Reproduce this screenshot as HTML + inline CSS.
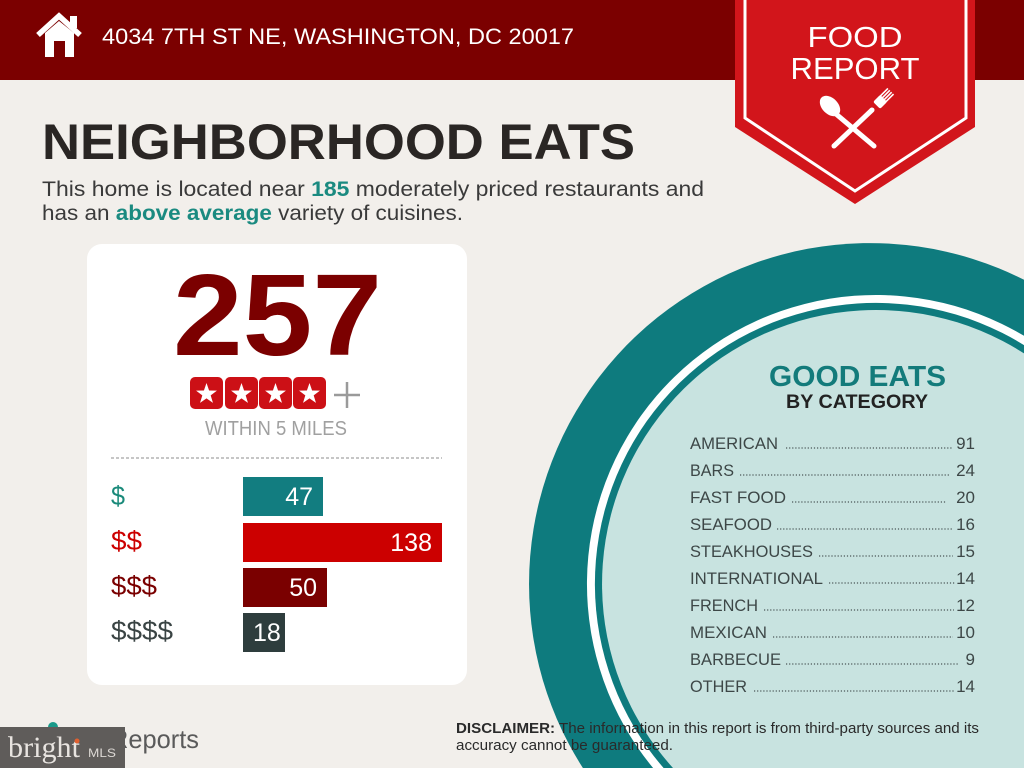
<!DOCTYPE html>
<html><head><meta charset="utf-8"><style>
html,body{margin:0;padding:0;background:#f2efeb;width:1024px;height:768px;overflow:hidden;}
svg{display:block}
text{font-family:"Liberation Sans",sans-serif}
</style></head><body>
<svg width="1024" height="768" viewBox="0 0 1024 768" xmlns="http://www.w3.org/2000/svg">
<defs>
<polygon id="star" points="0,-11 2.59,-3.56 10.46,-3.4 4.18,1.36 6.47,8.9 0,4.4 -6.47,8.9 -4.18,1.36 -10.46,-3.4 -2.59,-3.56" fill="#fff"/>
</defs>
<rect width="1024" height="768" fill="#f2efeb"/>

<!-- big circle (clipped to frame as paths) -->
<path d="M582.9 768 A341 341 0 0 1 1024 279.8 L1024 768 Z" fill="#0e7b7e"/>
<path d="M653.1 768 A289 289 0 0 1 1024 335.8 L1024 768 Z" fill="#ffffff"/>
<path d="M663.6 768 A281 281 0 0 1 1024 345.1 L1024 768 Z" fill="#0e7b7e"/>
<path d="M673.0 768 A274 274 0 0 1 1024 353.4 L1024 768 Z" fill="#c8e3e0"/>

<!-- header -->
<rect x="0" y="0" width="1024" height="80" fill="#7b0000"/>
<!-- house icon -->
<rect x="70" y="16" width="7" height="12" fill="#fff"/>
<polyline points="38,35 59,16 80,35" fill="none" stroke="#fff" stroke-width="5.5" stroke-linejoin="miter"/>
<path d="M45 33 L59 21 L74 33 L74 57 L65 57 L65 41 L54 41 L54 57 L45 57 Z" fill="#fff"/>
<text x="102" y="44" font-size="22" fill="#fff" textLength="472" lengthAdjust="spacingAndGlyphs">4034 7TH ST NE, WASHINGTON, DC 20017</text>

<!-- badge -->
<path d="M735 0 L975 0 L975 127 L855 204 L735 127 Z" fill="#d2151b"/>
<path d="M745 0 L745 118 L855 191 L966 118 L966 0" fill="none" stroke="#fff" stroke-width="3"/>
<text x="855" y="47" font-size="29" fill="#fff" text-anchor="middle" textLength="95" lengthAdjust="spacingAndGlyphs">FOOD</text>
<text x="855" y="79" font-size="31" fill="#fff" text-anchor="middle" textLength="129" lengthAdjust="spacingAndGlyphs">REPORT</text>
<!-- spoon & fork -->
<line x1="836" y1="114" x2="874" y2="146" stroke="#fff" stroke-width="5" stroke-linecap="round"/>
<ellipse cx="830" cy="106" rx="8" ry="12" transform="rotate(-45 830 106)" fill="#fff"/>
<line x1="834" y1="146" x2="872" y2="110" stroke="#fff" stroke-width="5" stroke-linecap="round"/>
<g transform="rotate(45 878 104)">
<rect x="873" y="96" width="10" height="10" rx="2" fill="#fff"/>
<line x1="874" y1="86" x2="874" y2="98" stroke="#fff" stroke-width="1.6"/>
<line x1="876.7" y1="86" x2="876.7" y2="98" stroke="#fff" stroke-width="1.6"/>
<line x1="879.3" y1="86" x2="879.3" y2="98" stroke="#fff" stroke-width="1.6"/>
<line x1="882" y1="86" x2="882" y2="98" stroke="#fff" stroke-width="1.6"/>
</g>

<!-- title -->
<text x="42" y="159" font-size="50" font-weight="bold" fill="#2a2624" textLength="593" lengthAdjust="spacingAndGlyphs">NEIGHBORHOOD EATS</text>
<text x="42" y="196" font-size="21" fill="#3a3a3a" textLength="662" lengthAdjust="spacingAndGlyphs">This home is located near <tspan fill="#1a8a80" font-weight="bold">185</tspan> moderately priced restaurants and</text>
<text x="42" y="220" font-size="21" fill="#3a3a3a" textLength="421" lengthAdjust="spacingAndGlyphs">has an <tspan fill="#1a8a80" font-weight="bold">above average</tspan> variety of cuisines.</text>

<!-- card -->
<rect x="87" y="244" width="380" height="441" rx="15" fill="#ffffff"/>
<text x="173" y="355" font-size="116" font-weight="bold" fill="#7b0000" textLength="209" lengthAdjust="spacingAndGlyphs">257</text>
<rect x="190" y="377" width="33" height="32" rx="5" fill="#cc1016"/>
<rect x="225" y="377" width="33" height="32" rx="5" fill="#cc1016"/>
<rect x="259" y="377" width="33" height="32" rx="5" fill="#cc1016"/>
<rect x="293" y="377" width="33" height="32" rx="5" fill="#cc1016"/>
<use href="#star" x="206.5" y="394"/>
<use href="#star" x="241.5" y="394"/>
<use href="#star" x="275.5" y="394"/>
<use href="#star" x="309.5" y="394"/>
<line x1="334" y1="395" x2="360" y2="395" stroke="#9a9a9a" stroke-width="2.5"/>
<line x1="347" y1="382" x2="347" y2="408" stroke="#9a9a9a" stroke-width="2.5"/>
<text x="205" y="435" font-size="20" fill="#a0a0a0" textLength="142" lengthAdjust="spacingAndGlyphs">WITHIN 5 MILES</text>
<line x1="111" y1="458" x2="442" y2="458" stroke="#b4b4b4" stroke-width="1.5" stroke-dasharray="3 2"/>

<!-- bars -->
<rect x="243" y="477" width="80" height="39" fill="#127d80"/>
<rect x="243" y="523" width="199" height="39" fill="#cc0000"/>
<rect x="243" y="568" width="84" height="39" fill="#7a0000"/>
<rect x="243" y="613" width="42" height="39" fill="#2e3d3d"/>
<text x="313" y="505" font-size="25" fill="#fff" text-anchor="end">47</text>
<text x="432" y="551" font-size="25" fill="#fff" text-anchor="end">138</text>
<text x="317" y="596" font-size="25" fill="#fff" text-anchor="end">50</text>
<text x="253" y="641" font-size="25" fill="#fff">18</text>
<text x="111" y="505" font-size="27" fill="#1a8a7a" textLength="14" lengthAdjust="spacingAndGlyphs">$</text>
<text x="111" y="550" font-size="27" fill="#cc0000" textLength="31" lengthAdjust="spacingAndGlyphs">$$</text>
<text x="111" y="595" font-size="27" fill="#7a0000" textLength="46" lengthAdjust="spacingAndGlyphs">$$$</text>
<text x="111" y="640" font-size="27" fill="#3a4444" textLength="62" lengthAdjust="spacingAndGlyphs">$$$$</text>

<!-- good eats -->
<text x="769" y="386" font-size="29" font-weight="bold" fill="#137b7b" textLength="177" lengthAdjust="spacingAndGlyphs">GOOD EATS</text>
<text x="786" y="408" font-size="19" font-weight="bold" fill="#222" textLength="142" lengthAdjust="spacingAndGlyphs">BY CATEGORY</text>

<g font-size="17" fill="#3d4747">
<text x="690" y="449" textLength="88" lengthAdjust="spacingAndGlyphs">AMERICAN</text>
<text x="975" y="449" text-anchor="end">91</text>
<text x="690" y="476" textLength="44" lengthAdjust="spacingAndGlyphs">BARS</text>
<text x="975" y="476" text-anchor="end">24</text>
<text x="690" y="503" textLength="96" lengthAdjust="spacingAndGlyphs">FAST FOOD</text>
<text x="975" y="503" text-anchor="end">20</text>
<text x="690" y="530" textLength="82" lengthAdjust="spacingAndGlyphs">SEAFOOD</text>
<text x="975" y="530" text-anchor="end">16</text>
<text x="690" y="557" textLength="123" lengthAdjust="spacingAndGlyphs">STEAKHOUSES</text>
<text x="975" y="557" text-anchor="end">15</text>
<text x="690" y="584" textLength="133" lengthAdjust="spacingAndGlyphs">INTERNATIONAL</text>
<text x="975" y="584" text-anchor="end">14</text>
<text x="690" y="611" textLength="68" lengthAdjust="spacingAndGlyphs">FRENCH</text>
<text x="975" y="611" text-anchor="end">12</text>
<text x="690" y="638" textLength="77" lengthAdjust="spacingAndGlyphs">MEXICAN</text>
<text x="975" y="638" text-anchor="end">10</text>
<text x="690" y="665" textLength="91" lengthAdjust="spacingAndGlyphs">BARBECUE</text>
<text x="975" y="665" text-anchor="end">9</text>
<text x="690" y="692" textLength="57" lengthAdjust="spacingAndGlyphs">OTHER</text>
<text x="975" y="692" text-anchor="end">14</text>
</g>
<g stroke="#4a5656" stroke-width="1.3" stroke-dasharray="1.2 1.9">
<line x1="786" y1="448" x2="953" y2="448"/>
<line x1="740" y1="475" x2="950" y2="475"/>
<line x1="792" y1="502" x2="947" y2="502"/>
<line x1="777" y1="529" x2="953" y2="529"/>
<line x1="819" y1="556" x2="953" y2="556"/>
<line x1="829" y1="583" x2="955" y2="583"/>
<line x1="764" y1="610" x2="954" y2="610"/>
<line x1="773" y1="637" x2="953" y2="637"/>
<line x1="786" y1="664" x2="958" y2="664"/>
<line x1="754" y1="691" x2="955" y2="691"/>
</g>

<!-- disclaimer -->
<text x="456" y="733" font-size="14.5" fill="#2a2a2a" textLength="523" lengthAdjust="spacingAndGlyphs"><tspan font-weight="bold">DISCLAIMER:</tspan> The information in this report is from third-party sources and its</text>
<text x="456" y="750" font-size="14.5" fill="#2a2a2a" textLength="217" lengthAdjust="spacingAndGlyphs">accuracy cannot be guaranteed.</text>

<!-- footer logo -->
<circle cx="53" cy="727" r="5" fill="#1a9a8a"/>
<text x="110" y="748" font-size="26" fill="#5a5a5a" textLength="89" lengthAdjust="spacingAndGlyphs">Reports</text>
<rect x="0" y="727" width="125" height="41" fill="#5f5c5a"/>
<text x="8" y="757" font-size="30" fill="#e8e4e0" style="font-family:'Liberation Serif',serif" textLength="72" lengthAdjust="spacingAndGlyphs">bright</text>
<circle cx="77" cy="741" r="2.5" fill="#e06030"/>
<text x="88" y="757" font-size="12" fill="#dcd8d4" textLength="28" lengthAdjust="spacingAndGlyphs">MLS</text>
</svg>
</body></html>
